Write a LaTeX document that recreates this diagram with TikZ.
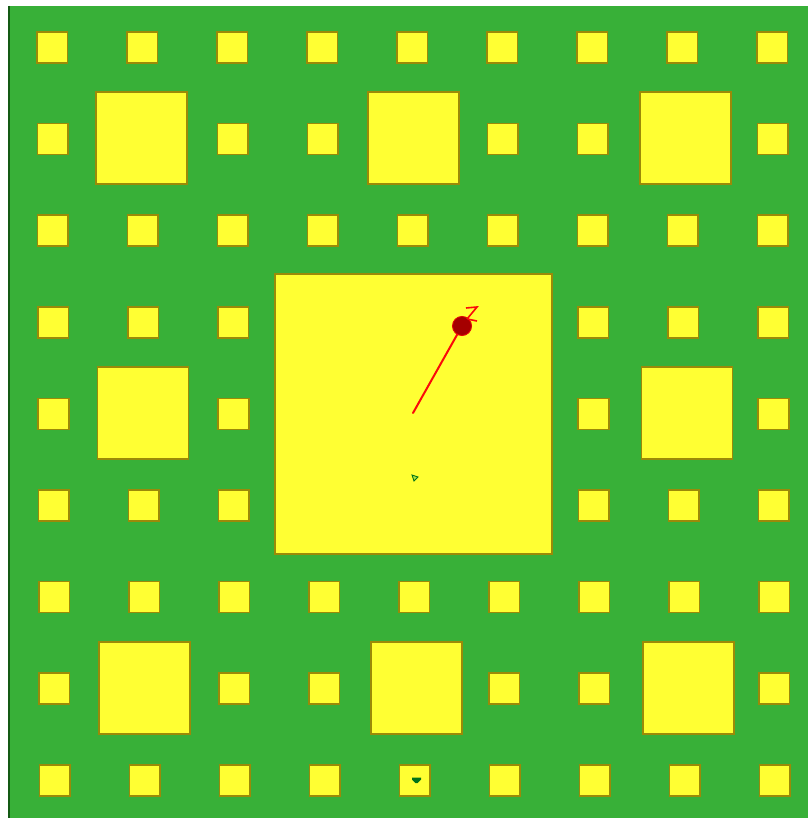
\documentclass[tikz,border=0pt]{standalone}
\usepackage{tikz}
\definecolor{bggreen}{RGB}{56,176,56}
\definecolor{darkedge}{RGB}{20,90,20}
\definecolor{holeyellow}{RGB}{255,255,51}
\definecolor{holeedge}{RGB}{155,138,8}
\definecolor{dotred}{RGB}{165,0,0}
\definecolor{linered}{RGB}{250,10,10}
\definecolor{markgreen}{RGB}{0,115,25}
\tikzset{
  hole/.style={fill=holeyellow,draw=holeedge,line width=1.6pt},
  pointer/.style={draw=linered,line width=2pt,line cap=round},
}
\begin{document}
\begin{tikzpicture}[x=1pt,y=-1pt]
\useasboundingbox (0,0) rectangle (808,818);
\fill[white] (0,0) rectangle (808,818);
\fill[bggreen] (8,6) rectangle (808,818);
\draw[darkedge,line width=1.5pt] (9,6) -- (9,818);
% small holes
\foreach \i in {0,...,8}{
  \foreach \j in {0,...,8}{
    \pgfmathtruncatemacro{\mi}{mod(\i,3)}
    \pgfmathtruncatemacro{\mj}{mod(\j,3)}
    \pgfmathtruncatemacro{\skip}{(\mi==1 && \mj==1) || (\i>2 && \i<6 && \j>2 && \j<6) ? 1 : 0}
    \ifnum\skip=0
      \pgfmathsetmacro{\xx}{37+90*\i+0.3*\j}
      \pgfmathsetmacro{\yy}{32+91.6*\j}
      \draw[hole] (\xx,\yy) rectangle ++(30.5,31);
    \fi
  }
}
% medium holes
\foreach \a in {0,1,2}{
  \foreach \b in {0,1,2}{
    \pgfmathtruncatemacro{\skip}{(\a==1 && \b==1) ? 1 : 0}
    \ifnum\skip=0
      \pgfmathsetmacro{\xx}{96+272*\a+1.5*\b}
      \pgfmathsetmacro{\yy}{92+275*\b}
      \draw[hole] (\xx,\yy) rectangle ++(91,92);
    \fi
  }
}
% large hole
\draw[hole] (275,274) rectangle (552,554);
% pointer
\coordinate (base) at (413,413);
\node[circle,fill=dotred,draw=linered!70!dotred,line width=1pt,minimum size=19pt,inner sep=0pt] (dot) at (462,326) {};
\draw[pointer] (base) -- (dot);
\draw[pointer,line width=1.6pt,line cap=butt,line join=miter] (466,308) -- (477,307) -- (467,319) -- (477,321);
\node[circle,fill=dotred,inner sep=0pt,minimum size=17pt] at (462,326) {};
% small marks
\draw[markgreen,fill=holeyellow!60!bggreen,line width=0.9pt] (412,475) -- (418,477) -- (414,481) -- cycle;
\fill[markgreen] (412,777.5) -- (421,777.5) -- (421,779.5) -- (417.5,783) -- (415.5,783) -- (412,779.5) -- cycle;
\end{tikzpicture}
\end{document}
